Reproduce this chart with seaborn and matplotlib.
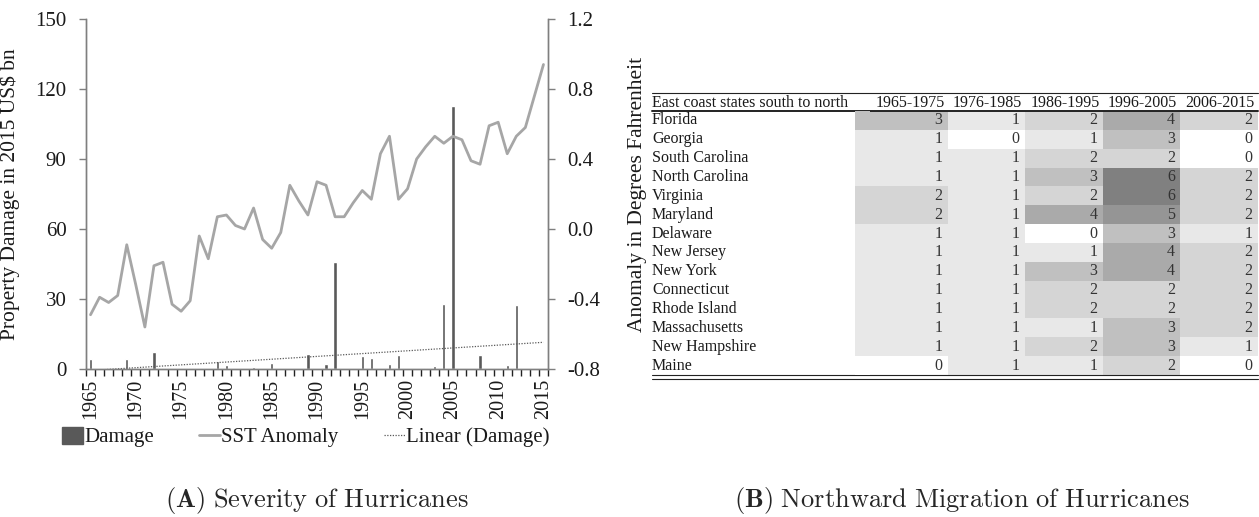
import numpy as np
import pandas as pd
import seaborn as sns
import matplotlib.pyplot as plt
from matplotlib.colors import ListedColormap
from matplotlib.lines import Line2D
from matplotlib.patches import Patch
from matplotlib import transforms

# --- panel A data ---
years = list(range(1965, 2016))
damage = [4.2, 0, 0, 0, 4.2, 0, 0, 7.3, 0, 0,
          0, 0, 0, 0, 3.4, 1.7, 0, 0, 1.0, 0,
          2.6, 0, 0, 0, 6.5, 0, 2.1, 46.0, 0, 0,
          5.4, 4.9, 0, 2.2, 6.1, 0, 0, 0.4, 1.4, 28.0,
          112.8, 0, 0, 6.1, 0, 0, 1.7, 27.3, 0, 0,
          0]
sst = [-0.49, -0.39, -0.42, -0.38, -0.09, -0.32, -0.56, -0.21, -0.19, -0.43,
       -0.47, -0.41, -0.04, -0.17, 0.07, 0.08, 0.02, 0.00, 0.12, -0.06,
       -0.11, -0.02, 0.25, 0.16, 0.08, 0.27, 0.25, 0.07, 0.07, 0.15,
       0.22, 0.17, 0.43, 0.53, 0.17, 0.23, 0.40, 0.47, 0.53, 0.49,
       0.53, 0.51, 0.39, 0.37, 0.59, 0.61, 0.43, 0.53, 0.58, 0.76,
       0.94]

# --- panel B data ---
states = ["Florida", "Georgia", "South Carolina", "North Carolina", "Virginia",
          "Maryland", "Delaware", "New Jersey", "New York", "Connecticut",
          "Rhode Island", "Massachusetts", "New Hampshire", "Maine"]
periods = ["1965-1975", "1976-1985", "1986-1995", "1996-2005", "2006-2015"]
p1965 = [3, 1, 1, 1, 2, 2, 1, 1, 1, 1, 1, 1, 1, 0]
p1976 = [1, 0, 1, 1, 1, 1, 1, 1, 1, 1, 1, 1, 1, 1]
p1986 = [2, 1, 2, 3, 2, 4, 0, 1, 3, 2, 2, 1, 2, 1]
p1996 = [4, 3, 2, 6, 6, 5, 3, 4, 4, 2, 2, 3, 3, 2]
p2006 = [2, 0, 0, 2, 2, 2, 1, 2, 2, 2, 2, 2, 1, 0]

sns.set_theme(style="ticks")
plt.rcParams['font.family'] = ['Liberation Serif', 'DejaVu Serif']
plt.rcParams['mathtext.fontset'] = 'cm'
plt.rcParams['axes.unicode_minus'] = False

fig = plt.figure(figsize=(12.59, 5.17), dpi=100)
W, H = 1259, 517
txt = "#1a1a1a"

df = pd.DataFrame({"year": years, "damage": damage, "sst": sst,
                   "pos": np.arange(len(years))})

ax = fig.add_axes([86 / W, 1 - 369 / H, 462 / W, 350 / H])
sns.barplot(data=df, x="year", y="damage", color="#595959", saturation=1,
            width=0.36, ax=ax)
sns.regplot(data=df, x="pos", y="damage", scatter=False, ci=None, truncate=True,
            color="#595959", line_kws=dict(lw=0.9, ls=(0, (1, 1.2))), ax=ax)
ax2 = ax.twinx()
sns.lineplot(data=df, x="pos", y="sst", color="#a6a6a6", lw=2, ax=ax2)

ax.set_xlim(-0.5, 50.5)
ax.set_ylim(0, 150)
ax.set_yticks(range(0, 151, 30))
ax2.set_ylim(-0.8, 1.2)
ax2.set_yticks(np.arange(-0.8, 1.21, 0.4))
ax2.set_yticklabels([f"{v:.1f}" for v in np.arange(-0.8, 1.21, 0.4)])
ax.set_xticks(range(0, 51, 5))
ax.set_xticklabels([str(y) for y in years[::5]], rotation=90)
ax.set_xticks(np.arange(-0.5, 51, 1), minor=True)

gray = "#7f7f7f"
for a in (ax, ax2):
    a.spines["top"].set_visible(False)
    for s in a.spines.values():
        s.set_color(gray)
        s.set_linewidth(1.0)
ax.tick_params(axis="x", which="major", length=0, labelsize=14.5, pad=7, colors=txt)
ax.tick_params(axis="x", which="minor", length=5, width=1, color="#222222")
ax.tick_params(axis="y", length=5, width=1, color=gray, labelsize=15, labelcolor=txt, pad=9)
ax2.tick_params(axis="y", length=5, width=1, color=gray, labelsize=15, labelcolor=txt, pad=9)

ax.set_xlabel("")
ax.set_ylabel("Property Damage in 2015 US$ bn", fontsize=15.5, color=txt)
ax.yaxis.set_label_coords(-0.143, 0.5)
ax2.set_ylabel("Anomaly in Degrees Fahrenheit", fontsize=15.5, color=txt,
               rotation=90)
ax2.yaxis.set_label_coords(1.173, 0.5)

handles = [Patch(color="#595959"),
           Line2D([], [], color="#a6a6a6", lw=2),
           Line2D([], [], color="#595959", lw=0.9, ls=(0, (1, 1.2)))]
fig.legend(handles, ["Damage", "SST Anomaly", "Linear (Damage)"], loc="center",
           bbox_to_anchor=(0.243, 1 - 437 / H), ncol=3, frameon=False, fontsize=15,
           handlelength=1.0, handleheight=0.9, handletextpad=0.05, columnspacing=2.2,
           labelcolor=txt)

# --- panel B table as heatmap ---
mat = pd.DataFrame({"1965-1975": p1965, "1976-1985": p1976, "1986-1995": p1986,
                    "1996-2005": p1996, "2006-2015": p2006}, index=states)
shades = ["#ffffff", "#e8e8e8", "#d5d5d5", "#c0c0c0", "#aaaaaa", "#959595", "#808080"]
cmap = ListedColormap(shades)
top, bot = 111, 375
tax = fig.add_axes([870 / W, 1 - bot / H, 388 / W, (bot - top) / H])
sns.heatmap(mat, ax=tax, cmap=cmap, vmin=-0.5, vmax=6.5, cbar=False, annot=True,
            fmt="d", annot_kws=dict(color="#333333", fontsize=11.5),
            xticklabels=False, yticklabels=False)
for t in tax.texts:
    x, y = t.get_position()
    t.set_position((x + 0.43, y))
    t.set_ha("right")
# first column is a bit wider in the original table
sax = fig.add_axes([855 / W, 1 - bot / H, 15 / W, (bot - top) / H])
sns.heatmap(mat[["1965-1975"]], ax=sax, cmap=cmap, vmin=-0.5, vmax=6.5, cbar=False,
            xticklabels=False, yticklabels=False)

tr = transforms.blended_transform_factory(fig.transFigure, tax.transData)
for i, s in enumerate(states):
    tax.text(652 / W, i + 0.5, s, transform=tr, ha="left", va="center",
             fontsize=11.5, color=txt)
tax.text(652 / W, -0.45, "East coast states south to north", transform=tr,
         ha="left", va="center", fontsize=11.5, color=txt)
for j, p in enumerate(periods):
    tax.text(j + 0.96, -0.45, p, ha="right", va="center", fontsize=11.5,
             color=txt, clip_on=False)

for yy, lw in [(0, 1.4), (14.0, 0.8), (14.2, 0.8)]:
    tax.add_line(Line2D([652 / W, 1258 / W], [yy, yy], transform=tr, color="#222222",
                        lw=lw, clip_on=False))
tax.add_line(Line2D([652 / W, 1258 / W], [-0.95, -0.95], transform=tr, color="#222222",
                    lw=0.8, clip_on=False))

fig.text(317 / W, 1 - 500 / H, r"$\mathbf{(A)}\ \mathrm{Severity\ of\ Hurricanes}$",
         ha="center", va="center", fontsize=19)
fig.text(962 / W, 1 - 500 / H,
         r"$\mathbf{(B)}\ \mathrm{Northward\ Migration\ of\ Hurricanes}$",
         ha="center", va="center", fontsize=19)

fig.savefig("out.png", dpi=100)
